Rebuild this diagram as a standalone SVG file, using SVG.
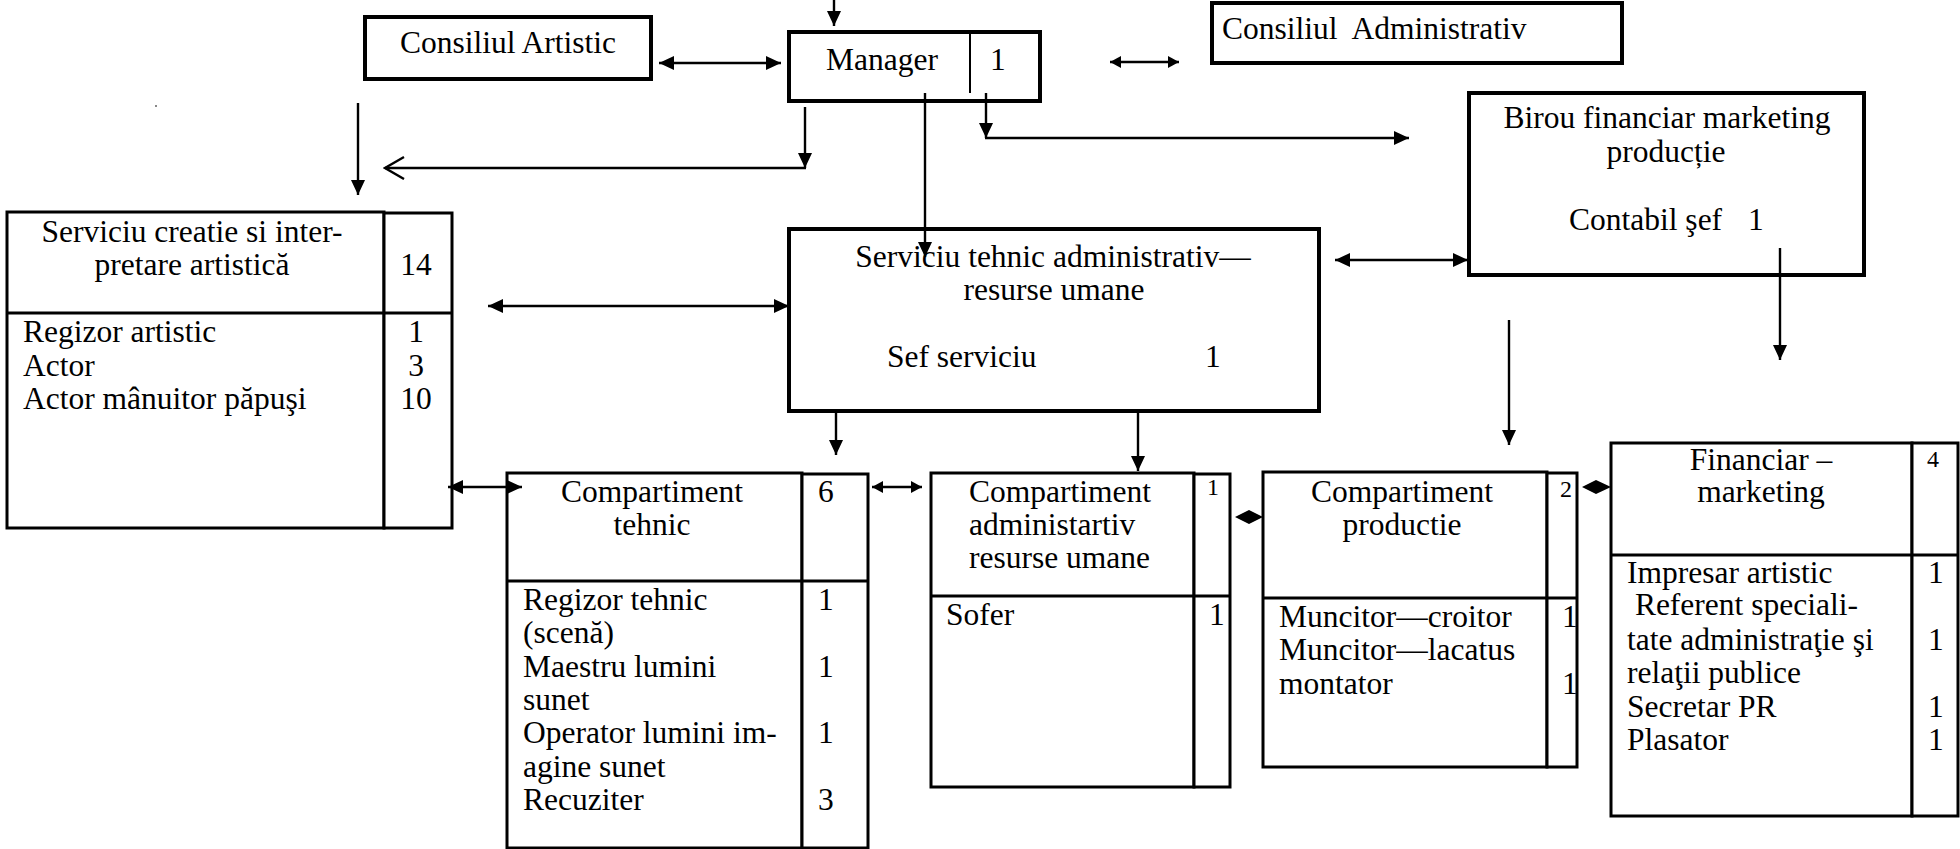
<svg xmlns="http://www.w3.org/2000/svg" width="1960" height="849" viewBox="0 0 1960 849">
<defs>
<style>
text{font-family:"Liberation Serif","Times New Roman",serif;font-size:31.5px;fill:#000}
.c{text-anchor:middle}
.s{font-size:24px}
.pre{white-space:pre}
.thick{fill:#fff;stroke:#000;stroke-width:4}
.box{fill:#fff;stroke:#000;stroke-width:3}
.ln{fill:none;stroke:#000;stroke-width:2.4}
.a{marker-end:url(#ah)}
.d{marker-start:url(#ah);marker-end:url(#ah)}
.ds{marker-start:url(#ahs);marker-end:url(#ahs)}
.o{marker-end:url(#open)}
</style>
<marker id="ah" markerUnits="userSpaceOnUse" markerWidth="15" markerHeight="14" refX="15" refY="7" orient="auto-start-reverse"><path d="M0,0 L15,7 L0,14 z" fill="#000"/></marker>
<marker id="ahs" markerUnits="userSpaceOnUse" markerWidth="11" markerHeight="12" refX="11" refY="6" orient="auto-start-reverse"><path d="M0,0 L11,6 L0,12 z" fill="#000"/></marker>
<marker id="open" markerUnits="userSpaceOnUse" markerWidth="22" markerHeight="26" refX="20" refY="12" orient="auto"><path d="M1,1 L20,12 L1,23" fill="none" stroke="#000" stroke-width="2.4"/></marker>
</defs>
<rect x="0" y="0" width="1960" height="849" fill="#fff"/>

<g id="consiliul-artistic">
<rect class="thick" x="365" y="17" width="286" height="62"/>
<text class="c" x="508" y="53">Consiliul Artistic</text>
</g>

<g id="manager">
<rect class="thick" x="789" y="32" width="251" height="69"/>
<line x1="970" y1="32" x2="970" y2="93" stroke="#000" stroke-width="2"/>
<text x="826" y="70">Manager</text>
<text x="990" y="70">1</text>
</g>

<g id="consiliul-administrativ">
<rect class="thick" x="1212" y="3" width="410" height="60"/>
<text class="pre" x="1222" y="39">Consiliul  Administrativ</text>
</g>

<g id="birou-financiar">
<rect class="thick" x="1469" y="93" width="395" height="182"/>
<text class="c" x="1667" y="128">Birou financiar marketing</text>
<text class="c" x="1666" y="162">producție</text>
<text x="1569" y="230">Contabil şef</text>
<text x="1748" y="230">1</text>
</g>

<g id="serviciu-tehnic">
<rect class="thick" x="789" y="229" width="530" height="182"/>
<text class="c" x="1053" y="267">Serviciu tehnic administrativ—</text>
<text class="c" x="1054" y="300">resurse umane</text>
<text x="887" y="367">Sef serviciu</text>
<text x="1205" y="367">1</text>
</g>

<g id="serviciu-creatie">
<rect class="box" x="7" y="212" width="377" height="316"/>
<rect class="box" x="384" y="213" width="68" height="315"/>
<line x1="7" y1="313" x2="452" y2="313" stroke="#000" stroke-width="3"/>
<text class="c" x="192" y="242">Serviciu creatie si inter-</text>
<text class="c" x="192" y="275">pretare artistică</text>
<text class="c" x="416" y="275">14</text>
<text x="23" y="342">Regizor artistic</text>
<text x="23" y="376">Actor</text>
<text x="23" y="409">Actor mânuitor păpuşi</text>
<text class="c" x="416" y="342">1</text>
<text class="c" x="416" y="376">3</text>
<text class="c" x="416" y="409">10</text>
</g>

<g id="compartiment-tehnic">
<rect class="box" x="507" y="473" width="295" height="375"/>
<rect class="box" x="802" y="474" width="66" height="374"/>
<line x1="507" y1="581" x2="868" y2="581" stroke="#000" stroke-width="3"/>
<text class="c" x="652" y="502">Compartiment</text>
<text class="c" x="652" y="535">tehnic</text>
<text x="818" y="502">6</text>
<text x="523" y="610">Regizor tehnic</text>
<text x="523" y="643">(scenă)</text>
<text x="523" y="677">Maestru lumini</text>
<text x="523" y="710">sunet</text>
<text x="523" y="743">Operator lumini im-</text>
<text x="523" y="777">agine sunet</text>
<text x="523" y="810">Recuziter</text>
<text x="818" y="610">1</text>
<text x="818" y="677">1</text>
<text x="818" y="743">1</text>
<text x="818" y="810">3</text>
</g>

<g id="compartiment-administrativ">
<rect class="box" x="931" y="473" width="263" height="314"/>
<rect class="box" x="1194" y="474" width="36" height="313"/>
<line x1="931" y1="596" x2="1230" y2="596" stroke="#000" stroke-width="3"/>
<text x="969" y="502">Compartiment</text>
<text x="969" y="535">administartiv</text>
<text x="969" y="568">resurse umane</text>
<text class="s" x="1207" y="495">1</text>
<text x="946" y="625">Sofer</text>
<text x="1209" y="625">1</text>
</g>

<g id="compartiment-productie">
<rect class="box" x="1263" y="472" width="284" height="295"/>
<rect class="box" x="1547" y="473" width="30" height="294"/>
<line x1="1263" y1="598" x2="1577" y2="598" stroke="#000" stroke-width="3"/>
<text class="c" x="1402" y="502">Compartiment</text>
<text class="c" x="1402" y="535">productie</text>
<text class="s" x="1560" y="497">2</text>
<text x="1279" y="627">Muncitor—croitor</text>
<text x="1279" y="660">Muncitor—lacatus</text>
<text x="1279" y="694">montator</text>
<text x="1562" y="627">1</text>
<text x="1562" y="694">1</text>
</g>

<g id="financiar-marketing">
<rect class="box" x="1611" y="443" width="301" height="373"/>
<rect class="box" x="1912" y="443" width="46" height="373"/>
<line x1="1611" y1="555" x2="1958" y2="555" stroke="#000" stroke-width="3"/>
<text class="c" x="1761" y="470">Financiar –</text>
<text class="c" x="1761" y="502">marketing</text>
<text class="s" x="1927" y="467">4</text>
<text x="1627" y="583">Impresar artistic</text>
<text class="pre" x="1627" y="615"> Referent speciali-</text>
<text x="1627" y="650">tate administraţie şi</text>
<text x="1627" y="683">relaţii publice</text>
<text x="1627" y="717">Secretar PR</text>
<text x="1627" y="750">Plasator</text>
<text x="1928" y="583">1</text>
<text x="1928" y="650">1</text>
<text x="1928" y="717">1</text>
<text x="1928" y="750">1</text>
</g>

<rect x="155" y="105" width="2" height="2" fill="#888"/>

<g id="connectors">
<line class="ln a" x1="834" y1="0" x2="834" y2="26"/>
<line class="ln d" x1="659" y1="63" x2="781" y2="63"/>
<line class="ln ds" x1="1110" y1="62" x2="1179" y2="62"/>
<line class="ln a" x1="805" y1="107" x2="805" y2="168"/>
<line class="ln o" x1="806" y1="168" x2="385" y2="168"/>
<line class="ln a" x1="358" y1="103" x2="358" y2="195"/>
<line class="ln a" x1="925" y1="93" x2="925" y2="257"/>
<line class="ln a" x1="986" y1="93" x2="986" y2="138"/>
<line class="ln a" x1="985" y1="138" x2="1409" y2="138"/>
<line class="ln d" x1="488" y1="306" x2="789" y2="306"/>
<line class="ln d" x1="1335" y1="260" x2="1468" y2="260"/>
<line class="ln a" x1="1780" y1="248" x2="1780" y2="360"/>
<line class="ln a" x1="1509" y1="320" x2="1509" y2="445"/>
<line class="ln a" x1="836" y1="411" x2="836" y2="455"/>
<line class="ln a" x1="1138" y1="411" x2="1138" y2="471"/>
<line class="ln d" x1="448" y1="487" x2="522" y2="487"/>
<line class="ln ds" x1="872" y1="487" x2="922" y2="487"/>
<path d="M1235,517 L1249,510 L1263,517 L1249,524 z" fill="#000"/>
<path d="M1582,487 L1596,480 L1611,487 L1596,494 z" fill="#000"/>
</g>
</svg>
